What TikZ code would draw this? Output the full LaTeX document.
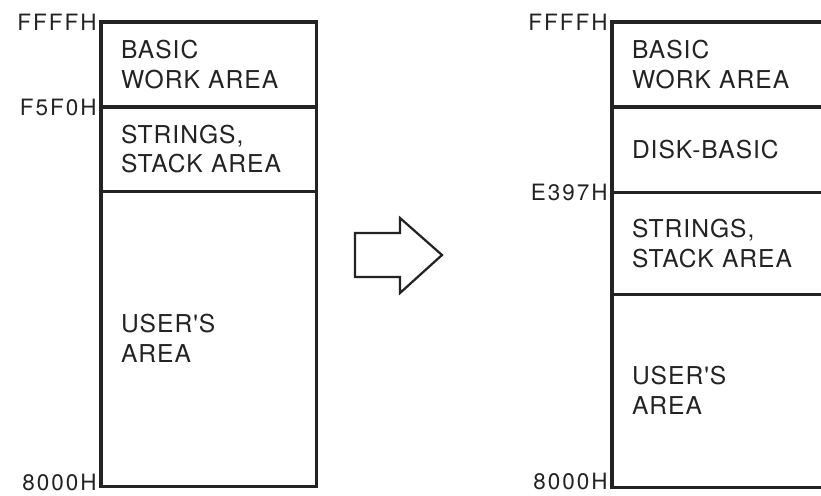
\documentclass[tikz,border=0pt]{standalone}
\usepackage{fontspec}
\setmainfont{TeX Gyre Heros}
\newfontfamily\cellfont[LetterSpace=4]{TeX Gyre Heros}
\newfontfamily\addrfont[LetterSpace=9]{TeX Gyre Heros}
\definecolor{mapInk}{RGB}{35,35,35}
\usetikzlibrary{positioning}

\begin{document}
\begin{tikzpicture}[
  x=0.025cm, y=-0.025cm,
  cell/.style={draw=mapInk, line width=2.2pt, anchor=north west, outer sep=0pt,
               minimum width=5.375cm, text width=4.375cm, inner xsep=0.5cm,
               align=left, text=mapInk,
               font=\cellfont\fontsize{17.5}{21.3}\selectfont},
  addr/.style={inner sep=0pt, text=mapInk,
               font=\addrfont\fontsize{16}{18}\selectfont}
]
  \useasboundingbox (0,0) rectangle (821,495);

  % memory map before
  \node[cell, minimum height=2.125cm] at (101,22) (lwork) {BASIC\\WORK~AREA};
  \node[cell, minimum height=2.1cm, below=0pt of lwork] (lstack) {STRINGS,\\STACK~AREA};
  \node[cell, minimum height=7.375cm, below=0pt of lstack] (luser) {USER'S\\AREA};

  \node[addr, left=0.1cm of lwork.north west]  (lffff) {FFFFH};
  \node[addr, left=0.1cm of lstack.north west] (lf5f0) {F5F0H};
  \node[addr, left=0.1cm of luser.south west, yshift=0.1cm] (l8000) {8000H};

  % memory map after
  \node[cell, minimum height=2.125cm] at (612,22) (rwork) {BASIC\\WORK~AREA};
  \node[cell, minimum height=2.125cm, below=0pt of rwork] (rdisk) {DISK-BASIC};
  \node[cell, minimum height=2.55cm, below=0pt of rdisk] (rstack) {STRINGS,\\STACK~AREA};
  \node[cell, minimum height=4.825cm, below=0pt of rstack] (ruser) {USER'S\\AREA};

  \node[addr, left=0.1cm of rwork.north west]  (rffff) {FFFFH};
  \node[addr, left=0.1cm of rstack.north west] (re397) {E397H};
  \node[addr, left=0.1cm of ruser.south west, yshift=0.13cm] (r8000) {8000H};

  % hollow arrow
  \draw[mapInk, line width=1.6pt, line join=miter]
    (355,233) -- (400,233) -- (400,218) -- (442,255) -- (400,293) -- (400,277) -- (355,277) -- cycle;
\end{tikzpicture}
\end{document}
